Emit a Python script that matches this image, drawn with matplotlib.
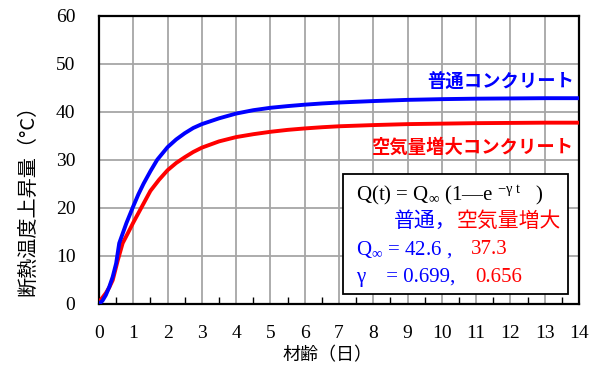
import matplotlib
matplotlib.use("Agg")
import matplotlib.pyplot as plt
from matplotlib.ticker import MultipleLocator
from matplotlib.patches import Rectangle

plt.rcParams['font.family'] = ['Liberation Serif', 'Noto Sans CJK JP', 'DejaVu Sans']
plt.rcParams['mathtext.fontset'] = 'custom'
plt.rcParams['mathtext.rm'] = 'Liberation Serif'
plt.rcParams['mathtext.it'] = 'Liberation Serif:italic'

# ---- data ----
t_normal = [0, 0.1, 0.2, 0.3, 0.4, 0.5, 0.59, 0.7, 0.8, 1.0, 1.15, 1.3, 1.5, 1.7, 1.85,
            2.0, 2.25, 2.5, 2.75, 3.0, 3.5, 4, 4.5, 5, 5.5, 6, 6.5, 7, 8, 9, 10, 11, 12,
            13, 14]
q_normal = [0, 0.6, 1.8, 3.5, 5.6, 8.4, 12.6, 14.8, 16.8, 20.3, 22.8, 25.0, 27.6, 30.0, 31.3,
            32.6, 34.2, 35.5, 36.6, 37.4, 38.6, 39.6, 40.3, 40.8, 41.15, 41.45, 41.7, 41.9,
            42.2, 42.45, 42.6, 42.7, 42.75, 42.8, 42.8]

t_air = [0, 0.05, 0.2, 0.3, 0.4, 0.55, 0.69, 0.85, 1.0, 1.25, 1.5, 1.75, 2.0, 2.25, 2.5,
         2.75, 3.0, 3.5, 4, 4.5, 5, 5.5, 6, 6.5, 7, 8, 9, 10, 11, 12, 13, 14]
q_air = [0, 0.8, 2.2, 3.4, 4.9, 9.1, 12.6, 14.8, 16.9, 20.2, 23.5, 25.8, 27.8, 29.3, 30.5,
         31.6, 32.5, 33.8, 34.7, 35.3, 35.8, 36.2, 36.5, 36.75, 36.95, 37.2, 37.4, 37.5,
         37.6, 37.65, 37.7, 37.7]

label_normal = "普通コンクリート"
label_air = "空気量増大コンクリート"
q_inf = ["42.6", "37.3"]
gammas = ["0.699", "0.656"]

x_ticks = list(range(0, 15))
y_ticks = list(range(0, 61, 10))

BLUE = "#0000FF"
RED = "#FF0000"
CJK = ['Noto Sans CJK JP', 'DejaVu Sans']
SERIF = ['Liberation Serif', 'Noto Sans CJK JP', 'DejaVu Sans']

fig = plt.figure(figsize=(5.96, 3.65), dpi=100)
ax = fig.add_axes([99/596, 1-303.7/365, 480/596, (303.7-15.6)/365])

ax.set_xlim(0, 14)
ax.set_ylim(0, 60)
ax.set_xticks(x_ticks)
ax.set_yticks(y_ticks)
ax.xaxis.set_minor_locator(MultipleLocator(0.5))
ax.grid(True, which='major', color='#a6a6a6', lw=1.3)
ax.set_axisbelow(True)
ax.tick_params(which='major', direction='in', length=0, labelsize=14)
ax.tick_params(axis='x', which='major', pad=15)
ax.tick_params(axis='y', which='major', pad=17)
ax.tick_params(axis='x', which='minor', direction='in', length=5, width=1, color='black')
for s in ax.spines.values():
    s.set_linewidth(1.6)
    s.set_color('black')

ax.plot(t_air, q_air, color=RED, lw=2.8, solid_joinstyle='round', zorder=3)
ax.plot(t_normal, q_normal, color=BLUE, lw=2.8, solid_joinstyle='round', zorder=4)

# curve labels
ax.text(13.85, q_normal[-1] + 3.4, label_normal, color=BLUE, fontsize=13.2,
        fontweight='bold', family=CJK, ha='right', va='center')
ax.text(13.85, q_air[-1] - 5.1, label_air, color=RED, fontsize=13.2,
        fontweight='bold', family=CJK, ha='right', va='center')

# formula box
ax.add_patch(Rectangle((7.11, 2.0), 13.67 - 7.11, 27.0 - 2.0, facecolor='white',
                       edgecolor='black', lw=1.3, zorder=5))

def fx(px):
    return (px - 99) / 34.3

def fy(py):
    return (303.7 - py) / 4.8

fs = 15
ax.text(fx(356), fy(195), r"Q(t) = Q$_{\infty}$ (1—e $^{\mathrm{-\gamma\ t}}$   )",
        color='black', fontsize=fs, family=SERIF, va='center', ha='left', zorder=6)
ax.text(fx(394), fy(221), "普通，", color=BLUE, fontsize=15, family=CJK,
        va='center', ha='left', zorder=6)
ax.text(fx(457), fy(221), "空気量増大", color=RED, fontsize=15, family=CJK,
        va='center', ha='left', zorder=6)
ax.text(fx(356), fy(250), r"Q$_{\infty}$ = " + q_inf[0] + " ,", color=BLUE, fontsize=fs,
        family=SERIF, va='center', ha='left', zorder=6)
ax.text(fx(471), fy(250), q_inf[1], color=RED, fontsize=fs,
        family=SERIF, va='center', ha='left', zorder=6)
ax.text(fx(356), fy(278), "γ    = " + gammas[0] + ",", color=BLUE, fontsize=fs,
        family=SERIF, va='center', ha='left', zorder=6)
ax.text(fx(475), fy(278), gammas[1], color=RED, fontsize=fs,
        family=SERIF, va='center', ha='left', zorder=6)

# axis labels
fig.text(327.5/596, 1 - 355/365, "材齢（日）", fontsize=13, family=CJK,
         ha='center', va='center')
fig.text(28/596, 1 - 195.5/365, "断熱温度上昇量（°C）", fontsize=14.5, family=CJK,
         rotation=90, ha='center', va='center')

fig.savefig("out.png", dpi=100)
